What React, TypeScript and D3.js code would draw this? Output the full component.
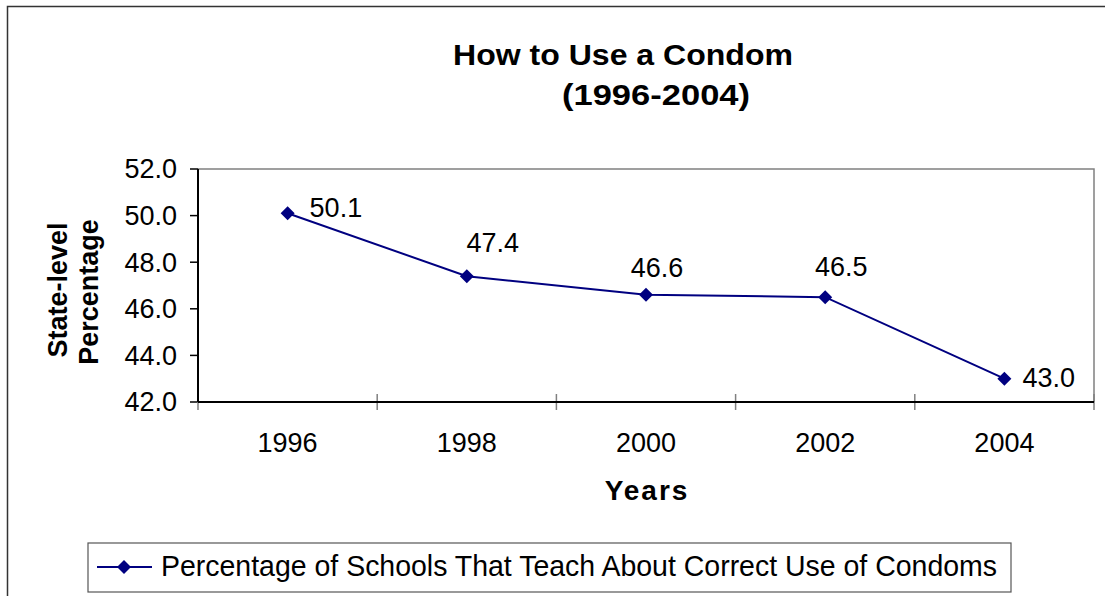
import React from "react";
import * as d3 from "d3";

const years = ["1996", "1998", "2000", "2002", "2004"];
const values = [50.1, 47.4, 46.6, 46.5, 43.0];
const yTicks = [42, 44, 46, 48, 50, 52];
const seriesName = "Percentage of Schools That Teach About Correct Use of Condoms";
const titleLines = ["How to Use a Condom", "(1996-2004)"];
const yTitleLines = ["State-level", "Percentage"];
const xTitle = "Years";
// label placement offsets relative to each point (dx, dy, anchor)
const labelOffsets: [number, number, string][] = [
  [22, 4, "start"],
  [26, -24, "middle"],
  [11, -18, "middle"],
  [16, -21, "middle"],
  [18, 8, "start"],
];

const FONT = "'Liberation Sans', Arial, Helvetica, sans-serif";
const NAVY = "#000080";

export default function App() {
  const W = 1105, H = 596;
  const left = 198, right = 1094, top = 169, bottom = 402;
  const x = d3.scaleBand<string>().domain(years).range([left, right]).padding(0);
  const y = d3.scaleLinear().domain([42, 52]).range([bottom, top]);
  const cx = (i: number) => (x(years[i]) as number) + x.bandwidth() / 2;
  const line = d3
    .line<number>()
    .x((_, i) => cx(i))
    .y((d) => y(d));
  const diamond = (px: number, py: number, r: number) =>
    `M${px},${py - r}L${px + r},${py}L${px},${py + r}L${px - r},${py}Z`;
  const boundaries = [...years.map((yr) => x(yr) as number), right];

  return (
    <svg
      width={W}
      height={H}
      style={{ position: "absolute", left: 0, top: 0, background: "#fff" }}
      fontFamily={FONT}
    >
      <rect x={0} y={0} width={W} height={H} fill="#fff" />
      {/* outer chart border */}
      <path d={`M7.5,${H + 5}V6.5H${W + 5}`} fill="none" stroke="#333" strokeWidth={1.5} />

      {/* title */}
      <text x={623} y={65} textAnchor="middle" fontWeight="bold" fontSize={29} textLength={340} lengthAdjust="spacingAndGlyphs">
        {titleLines[0]}
      </text>
      <text x={656} y={105} textAnchor="middle" fontWeight="bold" fontSize={29} textLength={188} lengthAdjust="spacingAndGlyphs">
        {titleLines[1]}
      </text>

      {/* plot area frame top/right */}
      <path d={`M${left},${top}H${right}V${bottom}`} fill="none" stroke="#808080" strokeWidth={1.5} />

      {/* y ticks and labels */}
      {yTicks.map((t) => (
        <g key={t}>
          <line x1={190} x2={left} y1={y(t)} y2={y(t)} stroke="#000" strokeWidth={1.5} />
          <text x={177} y={y(t)} dy="0.35em" textAnchor="end" fontSize={27}>
            {t.toFixed(1)}
          </text>
        </g>
      ))}

      {/* x ticks */}
      {boundaries.map((b, i) => (
        <line key={i} x1={b} x2={b} y1={bottom - 8} y2={bottom + 8} stroke="#808080" strokeWidth={1.5} />
      ))}
      {years.map((yr, i) => (
        <text key={yr} x={cx(i)} y={452} textAnchor="middle" fontSize={27}>
          {yr}
        </text>
      ))}

      {/* axes */}
      <line x1={left} x2={left} y1={top} y2={bottom} stroke="#000" strokeWidth={2} />
      <line x1={left} x2={right} y1={bottom} y2={bottom} stroke="#000" strokeWidth={2} />

      {/* axis titles */}
      <text x={647} y={500} textAnchor="middle" fontWeight="bold" fontSize={28} letterSpacing={2}>
        {xTitle}
      </text>
      <text transform="translate(67,290) rotate(-90)" textAnchor="middle" fontWeight="bold" fontSize={27}>
        {yTitleLines[0]}
      </text>
      <text transform="translate(98,292) rotate(-90)" textAnchor="middle" fontWeight="bold" fontSize={27}>
        {yTitleLines[1]}
      </text>

      {/* series */}
      <path d={line(values) || ""} fill="none" stroke={NAVY} strokeWidth={2} />
      {values.map((v, i) => (
        <path key={i} d={diamond(cx(i), y(v), 7)} fill={NAVY} />
      ))}
      {values.map((v, i) => (
        <text
          key={"l" + i}
          x={cx(i) + labelOffsets[i][0]}
          y={y(v) + labelOffsets[i][1]}
          textAnchor={labelOffsets[i][2] as any}
          fontSize={27}
        >
          {v.toFixed(1)}
        </text>
      ))}

      {/* legend */}
      <rect x={88} y={543} width={923} height={49} fill="#fff" stroke="#555" strokeWidth={1.2} />
      <line x1={97} x2={152} y1={567} y2={567} stroke={NAVY} strokeWidth={2} />
      <path d={diamond(124, 567, 7)} fill={NAVY} />
      <text x={161} y={576} fontSize={30} textLength={836} lengthAdjust="spacingAndGlyphs">
        {seriesName}
      </text>
    </svg>
  );
}
